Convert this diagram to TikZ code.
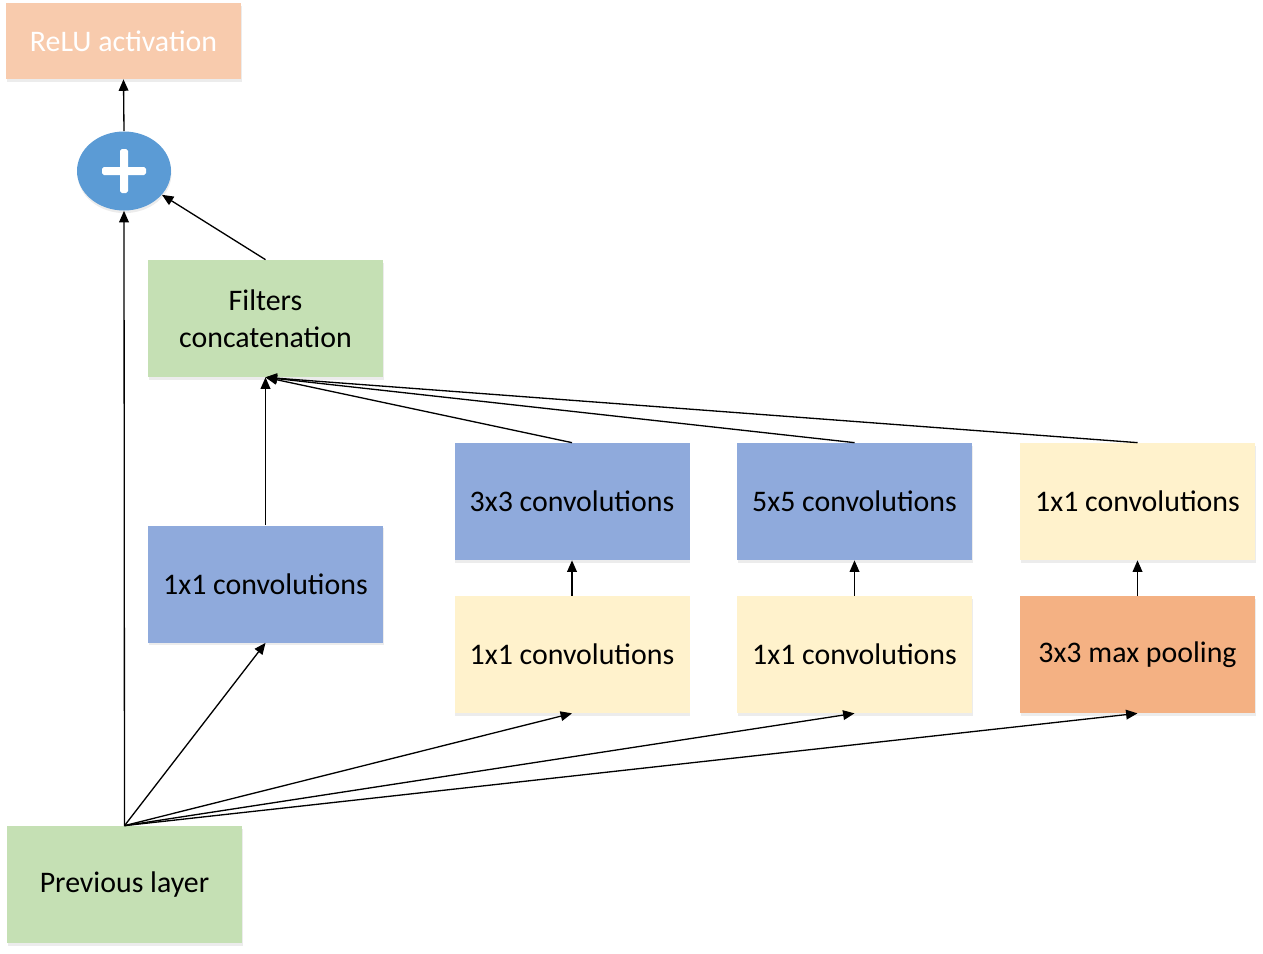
\documentclass[tikz,border=0pt]{standalone}
\usepackage{fontspec}
\setmainfont{Carlito}
\usetikzlibrary{arrows.meta,shapes.geometric,shadows}
\definecolor{cpeach}{HTML}{F8CBAD}
\definecolor{cblue}{HTML}{8FAADC}
\definecolor{cgreen}{HTML}{C5E0B4}
\definecolor{cyellow}{HTML}{FFF2CC}
\definecolor{corange}{HTML}{F4B183}
\definecolor{cplus}{HTML}{5B9BD5}
\tikzset{
  blk/.style={draw=none, minimum width=235*0.02cm, minimum height=117*0.02cm, inner sep=0pt, align=center,
    font=\fontsize{17}{21}\selectfont, text=black, drop shadow={shadow xshift=0.3pt, shadow yshift=-1.5pt, opacity=0.15}},
  con/.style={-{Triangle[length=6.5pt,width=5.5pt]}, line width=0.75pt, black}
}
\begin{document}
\begin{tikzpicture}[x=0.02cm,y=-0.02cm]
\useasboundingbox (0,0) rectangle (1263,953);
\node[blk, fill=cpeach, text=white, minimum height=76*0.02cm] (relu) at (123.5,41) {ReLU activation};
\node[ellipse, fill=cplus, minimum width=94*0.02cm, minimum height=79*0.02cm, inner sep=0pt,
  drop shadow={shadow xshift=0.3pt, shadow yshift=-1.5pt, opacity=0.15}] (plus) at (124,171) {};
\fill[white, rounded corners=1pt] (plus.center) ++(-22,-4) rectangle ++(44,8);
\fill[white, rounded corners=1pt] (plus.center) ++(-4,-22) rectangle ++(8,44);
\node[blk, fill=cgreen] (fc) at (265.5,318.5) {Filters\\concatenation};
\node[blk, fill=cblue] (c1) at (265.5,584) {1x1 convolutions};
\node[blk, fill=cblue] (c3) at (572,501.5) {3x3 convolutions};
\node[blk, fill=cyellow] (r3) at (572,654.5) {1x1 convolutions};
\node[blk, fill=cblue] (c5) at (854.5,501.5) {5x5 convolutions};
\node[blk, fill=cyellow] (r5) at (854.5,654.5) {1x1 convolutions};
\node[blk, fill=cyellow] (pc) at (1137.5,501.5) {1x1 convolutions};
\node[blk, fill=corange] (mp) at (1137.5,654.5) {3x3 max pooling};
\node[blk, fill=cgreen] (prev) at (124.5,884.5) {Previous layer};

\draw[con] (prev.north) -- (plus.south);
\draw[con] (prev.north) -- (c1.south);
\draw[con] (prev.north) -- (r3.south);
\draw[con] (prev.north) -- (r5.south);
\draw[con] (prev.north) -- (mp.south);
\draw[con] (plus.north) -- (relu.south);
\draw[con] (fc.north) -- (plus);
\draw[con] (c1.north) -- (fc.south);
\draw[con] (c3.north) -- (fc.south);
\draw[con] (c5.north) -- (fc.south);
\draw[con] (pc.north) -- (fc.south);
\draw[con] (r3.north) -- (c3.south);
\draw[con] (r5.north) -- (c5.south);
\draw[con] (mp.north) -- (pc.south);
\end{tikzpicture}
\end{document}
